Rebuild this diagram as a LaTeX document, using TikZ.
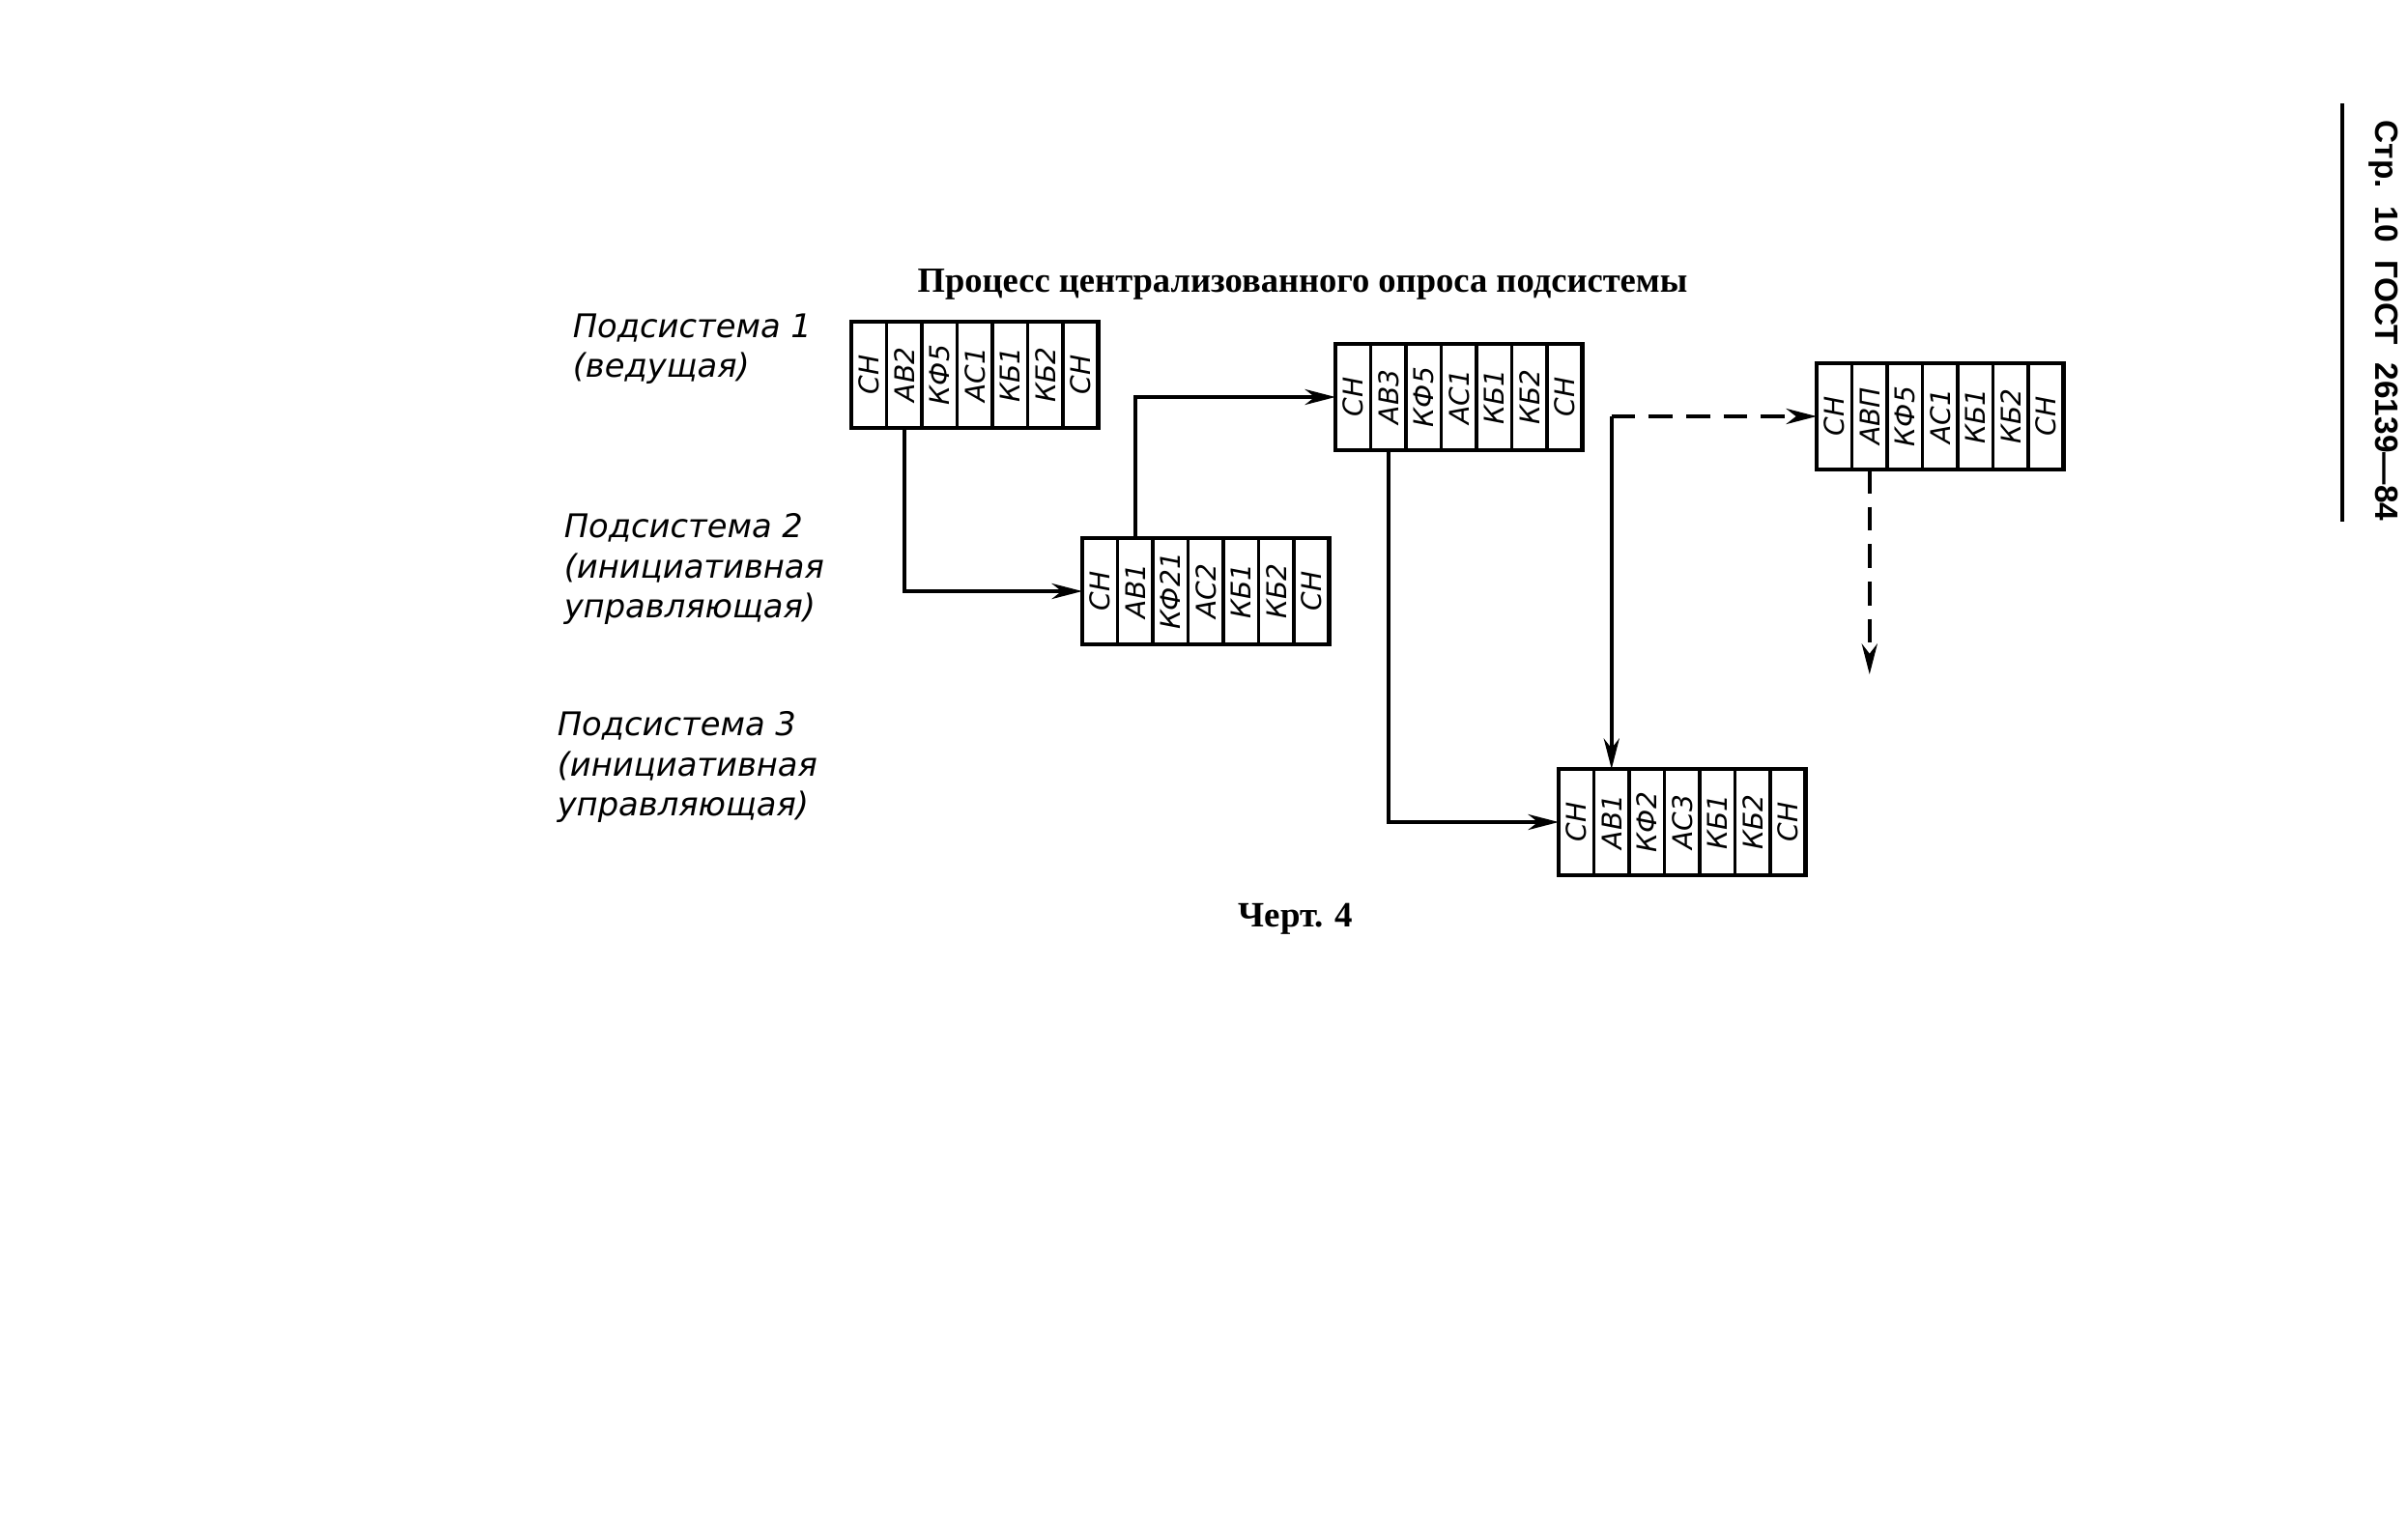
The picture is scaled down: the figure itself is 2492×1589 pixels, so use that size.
\documentclass[tikz,border=0pt]{standalone}
\usepackage{fontspec}
\setmainfont{Liberation Serif}
\newfontfamily\gostfont{DejaVu Sans}
\newfontfamily\headfont{Liberation Sans}
\usetikzlibrary{arrows.meta, positioning, calc}

\begin{document}
\begin{tikzpicture}[x=0.1mm, y=-0.1mm, >={Stealth[length=9pt,width=4.6pt]}, line width=1pt]
	\tikzstyle{cell}=[draw, line width=0.9pt, minimum width=3.65mm, minimum height=11mm, inner sep=0pt, outer sep=0pt, font=\gostfont\itshape\fontsize{8}{9}\selectfont]
	\tikzstyle{frame}=[line width=1.4pt]
	\tikzstyle{lbl}=[anchor=west, align=left, inner sep=0pt, font=\gostfont\itshape\fontsize{9.6}{11.7}\selectfont]
	\tikzstyle{dashline}=[dash pattern=on 7pt off 4pt]

	\path[fill=white] (0,0) rectangle (2492,1589);
	\useasboundingbox (0,0) rectangle (2492,1589);

	% title and page head
	\node[font=\bfseries\fontsize{10.4}{13}\selectfont] (title) at (1348,294) {Процесс централизованного опроса подсистемы};
	\node[rotate=-90, font=\headfont\bfseries\fontsize{9.5}{11}\selectfont] (head) at (2467,332) {Стр.~~10~~ГОСТ~~26139—84};
	\draw[line width=1.2pt] (2424,107) -- (2424,540);

	% subsystems
	\node[lbl] (s1) at (591,361) {Подсистема 1\\(ведущая)};
	\node[lbl] (s2) at (582,589) {Подсистема 2\\(инициативная\\управляющая)};
	\node[lbl] (s3) at (575,794) {Подсистема 3\\(инициативная\\управляющая)};

	% frames
	\foreach \t [count=\i] in {СН,АВ2,КФ5,АС1,КБ1,КБ2,СН}
		\node[cell] (a\i) at (881+36.5*\i-18.25,388) {\rotatebox{90}{\t}};
	\foreach \t [count=\i] in {СН,АВ1,КФ21,АС2,КБ1,КБ2,СН}
		\node[cell] (b\i) at (1120+36.5*\i-18.25,612) {\rotatebox{90}{\t}};
	\foreach \t [count=\i] in {СН,АВ3,КФ5,АС1,КБ1,КБ2,СН}
		\node[cell] (c\i) at (1382+36.5*\i-18.25,411) {\rotatebox{90}{\t}};
	\foreach \t [count=\i] in {СН,АВП,КФ5,АС1,КБ1,КБ2,СН}
		\node[cell] (d\i) at (1880+36.5*\i-18.25,431) {\rotatebox{90}{\t}};
	\foreach \t [count=\i] in {СН,АВ1,КФ2,АС3,КБ1,КБ2,СН}
		\node[cell] (e\i) at (1613+36.5*\i-18.25,851) {\rotatebox{90}{\t}};
	\foreach \k in {a,b,c,d,e}
		\draw[frame] (\k1.north west) rectangle (\k7.south east);

	\node[font=\bfseries\fontsize{10.5}{12}\selectfont] (cap) at (1341,951) {Черт. 4};

	% connections
	\coordinate (turn) at (e2.north |- d1.west);
	\coordinate[below=21.2mm of d2.south] (next);
	\draw[->] (a2.south) |- (b1.west);
	\draw[->] (b2.north) |- (c1.west);
	\draw[->] (c2.south) |- (e1.west);
	\draw[->] (turn) -- (e2.north);
	\draw[->, dashline] (turn) -- (d1.west);
	\draw[->, dashline] (d2.south) -- (next);
\end{tikzpicture}
\end{document}
